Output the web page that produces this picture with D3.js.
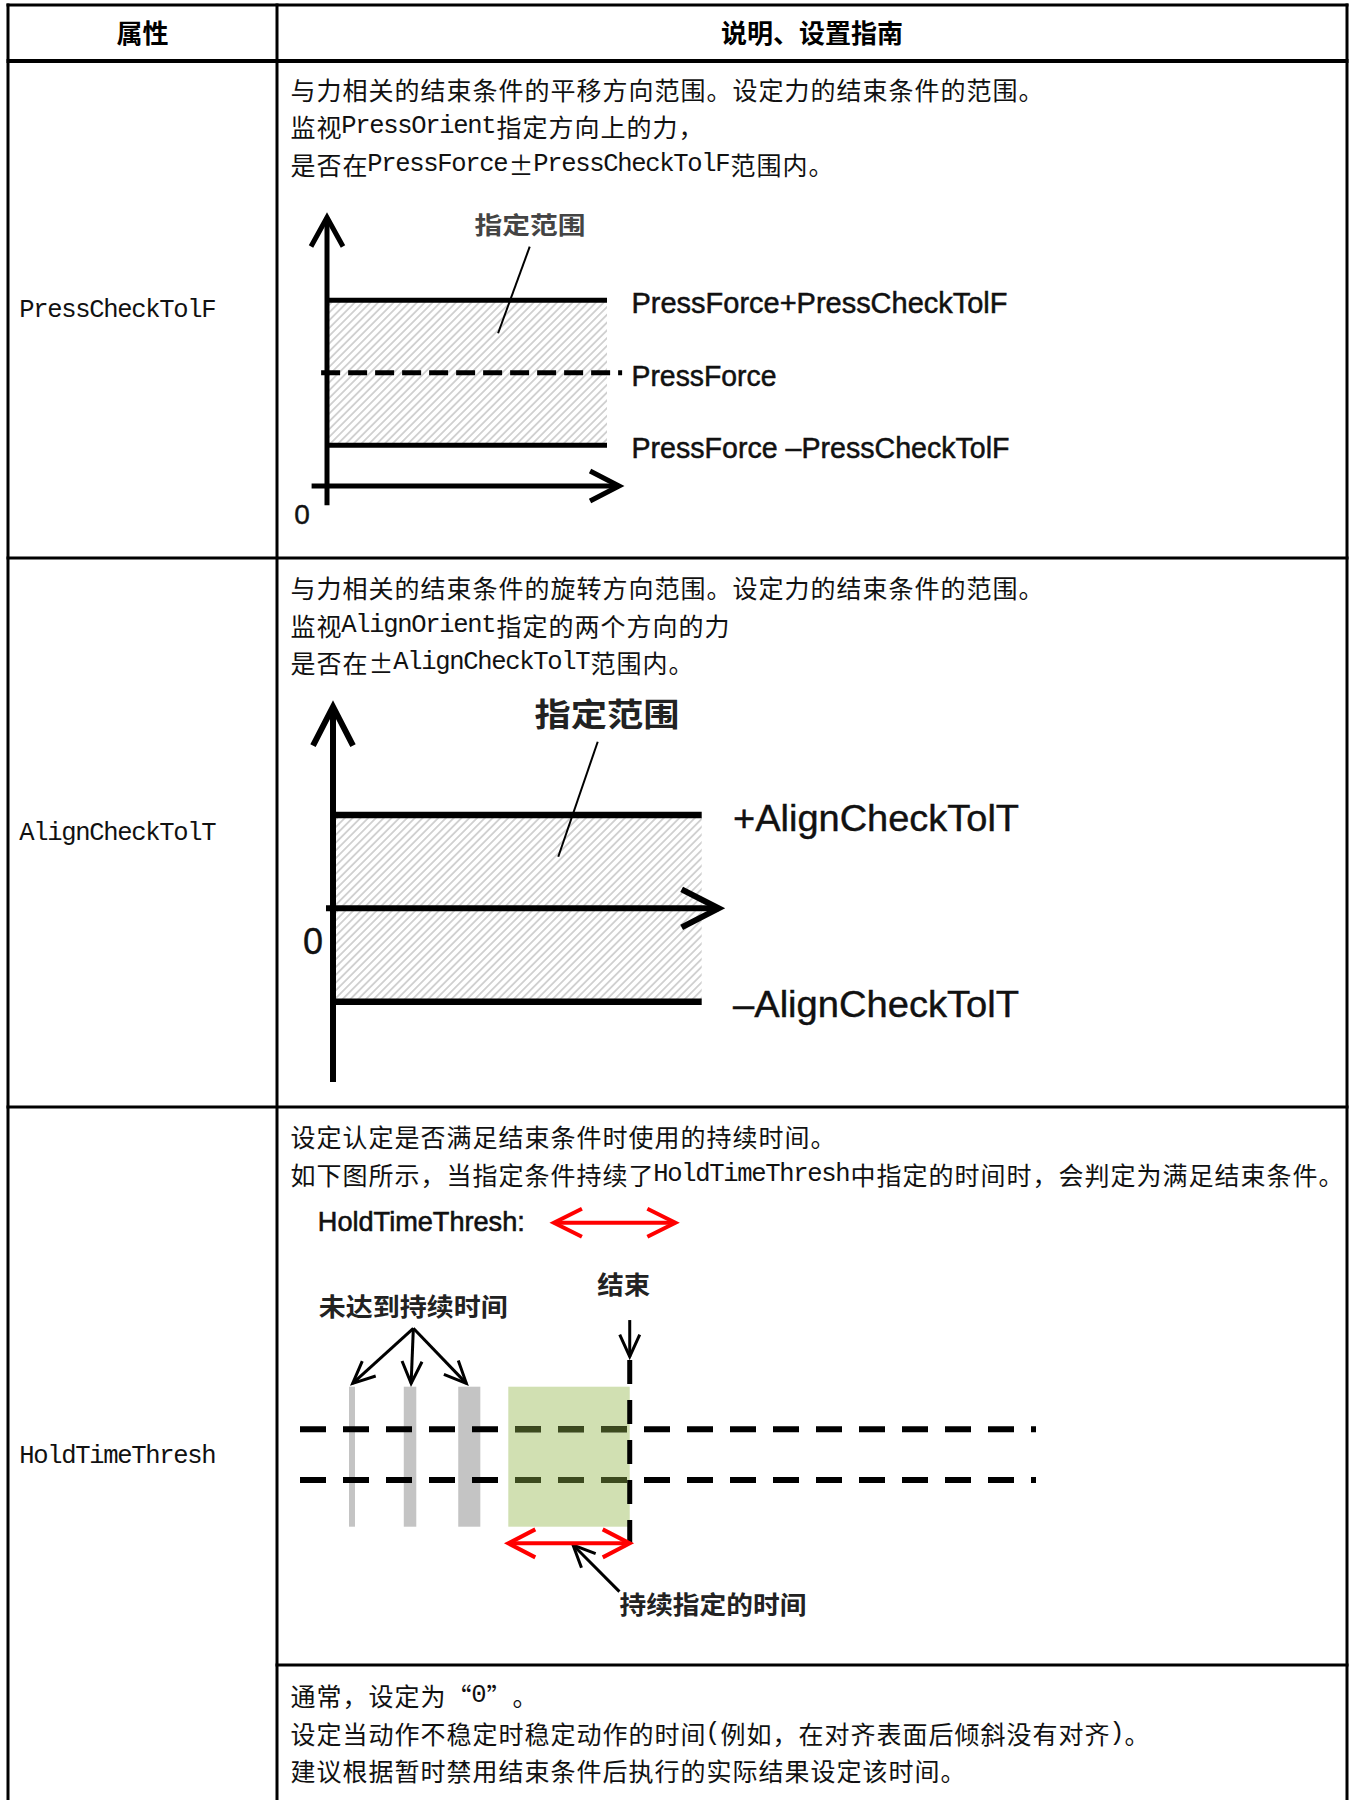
<!DOCTYPE html>
<html><head><meta charset="utf-8">
<script src="https://cdn.jsdelivr.net/npm/d3@7"></script>
<style>body{margin:0;background:#fff;overflow:hidden}</style>
</head><body><div id="chart"></div>
<script>
// ---------------- data ----------------
const headers = ["属性", "说明、设置指南"];
const propertyNames = ["PressCheckTolF", "AlignCheckTolT", "HoldTimeThresh"];
const row1Lines = ["与力相关的结束条件的平移方向范围。设定力的结束条件的范围。", "监视PressOrient指定方向上的力，", "是否在PressForce±PressCheckTolF范围内。"];
const row2Lines = ["与力相关的结束条件的旋转方向范围。设定力的结束条件的范围。", "监视AlignOrient指定的两个方向的力", "是否在±AlignCheckTolT范围内。"];
const row3Lines = ["设定认定是否满足结束条件时使用的持续时间。", "如下图所示，当指定条件持续了HoldTimeThresh中指定的时间时，会判定为满足结束条件。"];
const row3bLines = ["通常，设定为“0”。", "设定当动作不稳定时稳定动作的时间(例如，在对齐表面后倾斜没有对齐)。", "建议根据暂时禁用结束条件后执行的实际结果设定该时间。"];

// diagram 1 (PressCheckTolF), values in force units
const pressForce = 1.0;
const pressTol = 0.64;
const d1Labels = ["PressForce+PressCheckTolF", "PressForce", "PressForce –PressCheckTolF"];
const d1LabelValues = [pressForce + pressTol, pressForce, pressForce - pressTol];
const rangeLabel = "指定范围";

// diagram 2 (AlignCheckTolT)
const alignTol = 1.0;
const d2Labels = ["+AlignCheckTolT", "–AlignCheckTolT"];
const d2LabelValues = [alignTol, -alignTol];

// diagram 3 (HoldTimeThresh), time units
const shortPulses = [[6.66, 7.47], [14.1, 15.8], [21.5, 24.5]];
const holdStart = 28.3;
const holdTime = 16.5;
const thresholdLevels = [0.696, 0.334];
const d3Texts = {hold: "HoldTimeThresh:", end: "结束", notReached: "未达到持续时间", held: "持续指定的时间"};

// ---------------- layout ----------------
const W = 1349, H = 1805;
const colX = [8, 277, 1347];
const rowY = [5, 61, 558, 1107, 1805];
const subRowY = 1665;
const EM = 26, HALF = 14, LH = 37.5;
const CJK = "'Noto Sans CJK SC', sans-serif";
const MONO = "'Liberation Mono', monospace";
const SANS = "'Liberation Sans', Arial, sans-serif";

const svg = d3.select("#chart").append("svg").attr("width", W).attr("height", H)
  .style("display", "block");
svg.append("rect").attr("width", W).attr("height", H).attr("fill", "#fff");

const defs = svg.append("defs");
const pat = defs.append("pattern").attr("id", "hatch").attr("patternUnits", "userSpaceOnUse")
  .attr("width", 5.5).attr("height", 5.5).attr("patternTransform", "rotate(45)");
pat.append("rect").attr("width", 5.5).attr("height", 5.5).attr("fill", "#fff");
pat.append("line").attr("x1", 2.75).attr("x2", 2.75).attr("y1", 0).attr("y2", 5.5)
  .attr("stroke", "#b8b8b8").attr("stroke-width", 1.2);

// ---------------- helpers ----------------
function richLine(g, x0, yc, str) {
  let x = x0;
  const runs = [];
  for (const ch of str) {
    const half = /[\x20-\x7E]/.test(ch);
    const w = half ? HALF : EM;
    if (ch !== " ") {
      let r = runs[runs.length - 1];
      if (!r || r.half !== half) { r = {half, c: [], x: []}; runs.push(r); }
      r.c.push(ch); r.x.push(x + w / 2);
    }
    x += w;
  }
  const t = g.append("text").attr("y", yc).attr("text-anchor", "middle").attr("dominant-baseline", "central")
    .attr("fill", "#111");
  runs.forEach(r => t.append("tspan").attr("x", r.x.join(" ")).attr("y", yc)
    .style("font-family", r.half ? MONO : CJK).style("font-size", r.half ? "25.5px" : "25px")
    .text(r.c.join("")));
}
function arrowHead(g, tx, ty, fx, fy, len, hw, color, sw) {
  const dx = tx - fx, dy = ty - fy, L = Math.hypot(dx, dy);
  const ux = dx / L, uy = dy / L, nx = -uy, ny = ux;
  const pts = [[tx - ux * len + nx * hw, ty - uy * len + ny * hw], [tx, ty], [tx - ux * len - nx * hw, ty - uy * len - ny * hw]];
  g.append("path").attr("d", d3.line()(pts)).attr("fill", "none").attr("stroke", color)
    .attr("stroke-width", sw).attr("stroke-linejoin", "miter").attr("stroke-linecap", "butt");
}
function arrow(g, fx, fy, tx, ty, color, sw, len, hw) {
  g.append("line").attr("x1", fx).attr("y1", fy).attr("x2", tx).attr("y2", ty)
    .attr("stroke", color).attr("stroke-width", sw);
  arrowHead(g, tx, ty, fx, fy, len, hw, color, sw);
}
function dblArrow(g, x1, x2, y, color, sw, len, hw) {
  g.append("line").attr("x1", x1 + 2).attr("y1", y).attr("x2", x2 - 2).attr("y2", y)
    .attr("stroke", color).attr("stroke-width", sw);
  arrowHead(g, x1, y, x2, y, len, hw, color, sw);
  arrowHead(g, x2, y, x1, y, len, hw, color, sw);
}
function label(g, x, y, txt, font, size, weight, color, anchor, tl, strokeW) {
  const t = g.append("text").attr("x", x).attr("y", y).attr("text-anchor", anchor || "start")
    .attr("dominant-baseline", "central").style("font-family", font).style("font-size", size + "px")
    .style("font-weight", weight || "normal").attr("fill", color || "#111").text(txt);
  if (tl) t.attr("textLength", tl).attr("lengthAdjust", "spacingAndGlyphs");
  if (strokeW) t.attr("stroke", color || "#111").attr("stroke-width", strokeW);
  return t;
}

// ---------------- table text ----------------
const tg = svg.append("g");
headers.forEach((h, i) => {
  label(tg, (colX[i] + colX[i + 1]) / 2, (rowY[0] + rowY[1]) / 2 - 2, h, CJK, 26, "bold", "#000", "middle");
});
propertyNames.forEach((p, i) => {
  const yc = (rowY[i + 1] + rowY[i + 2]) / 2;
  richLine(tg, 20, yc, p);
});
const blocks = [[row1Lines, 88.5], [row2Lines, 587], [row3Lines, 1136], [row3bLines, 1695]];
blocks.forEach(([lines, y0]) => lines.forEach((ln, k) => richLine(tg, 290, y0 + k * LH, ln)));

// ---------------- diagram 1 ----------------
const g1 = svg.append("g");
const x1 = d3.scaleLinear().domain([0, 100]).range([327, 607]);
const y1 = d3.scaleLinear().domain([0, 1]).range([486, 372.7]);
g1.append("rect").attr("x", x1(0)).attr("width", x1(100) - x1(0))
  .attr("y", y1(pressForce + pressTol)).attr("height", y1(pressForce - pressTol) - y1(pressForce + pressTol))
  .attr("fill", "url(#hatch)");
[pressForce + pressTol, pressForce - pressTol].forEach(v => g1.append("line")
  .attr("x1", x1(0)).attr("x2", x1(100)).attr("y1", y1(v)).attr("y2", y1(v))
  .attr("stroke", "#000").attr("stroke-width", 5));
g1.append("line").attr("x1", x1(-2.1)).attr("x2", x1(105.4)).attr("y1", y1(pressForce)).attr("y2", y1(pressForce))
  .attr("stroke", "#000").attr("stroke-width", 5).attr("stroke-dasharray", "19,8");
arrow(g1, x1(0), y1(-0.17), x1(0), y1(2.37), "#000", 5, 29, 16);
arrow(g1, x1(-5.5), y1(0), x1(104.3), y1(0), "#000", 5, 29, 15);
d1Labels.forEach((t, i) => label(g1, x1(108.75), y1(d1LabelValues[i]) + 3, t, SANS, 29, "normal", "#111", "start",
  [376, 145, 378][i], 0.5));
label(g1, x1(-8.9), y1(-0.25), "0", SANS, 28, "normal", "#111", "middle", null, 0.4);
label(g1, x1(72.5), y1(2.32), rangeLabel, CJK, 24, "bold", "#444", "middle", 111);
g1.append("line").attr("x1", x1(72.4)).attr("y1", y1(2.112)).attr("x2", x1(61.1)).attr("y2", y1(1.348))
  .attr("stroke", "#000").attr("stroke-width", 2);

// ---------------- diagram 2 ----------------
const g2 = svg.append("g");
const x2 = d3.scaleLinear().domain([0, 100]).range([333, 701.7]);
const y2 = d3.scaleLinear().domain([-1, 1]).range([1001.7, 815]);
g2.append("rect").attr("x", x2(0)).attr("width", x2(100) - x2(0))
  .attr("y", y2(alignTol)).attr("height", y2(-alignTol) - y2(alignTol)).attr("fill", "url(#hatch)");
[alignTol, -alignTol].forEach(v => g2.append("line")
  .attr("x1", x2(0)).attr("x2", x2(100)).attr("y1", y2(v)).attr("y2", y2(v))
  .attr("stroke", "#000").attr("stroke-width", 6.5));
arrow(g2, x2(-1.9), y2(0), x2(104.6), y2(0), "#000", 6, 37, 19);
arrow(g2, x2(0), y2(-1.86), x2(0), y2(2.16), "#000", 6, 39, 20);
d2Labels.forEach((t, i) => label(g2, x2(108.5), y2(d2LabelValues[i]) + 3, t, SANS, 36, "normal", "#111", "start", 286, 0.4));
label(g2, x2(-5.4), y2(-0.357), "0", SANS, 36, "normal", "#111", "middle", null, 0.4);
label(g2, x2(74.3), y2(2.107), rangeLabel, CJK, 32, "bold", "#222", "middle", 145);
g2.append("line").attr("x1", x2(71.8)).attr("y1", y2(1.785)).attr("x2", x2(61.1)).attr("y2", y2(0.553))
  .attr("stroke", "#000").attr("stroke-width", 2);

// ---------------- diagram 3 ----------------
const g3 = svg.append("g");
const tX = d3.scaleLinear().domain([0, 100]).range([300, 1036]);
const tY = d3.scaleLinear().domain([0, 1]).range([1526.7, 1386.7]);
const holdEnd = holdStart + holdTime;
g3.selectAll("rect.pulse").data(shortPulses).join("rect").attr("class", "pulse")
  .attr("x", d => tX(d[0])).attr("width", d => tX(d[1]) - tX(d[0]))
  .attr("y", tY(1)).attr("height", tY(0) - tY(1)).attr("fill", "#c4c4c4");
g3.append("rect").attr("x", tX(holdStart)).attr("width", tX(holdEnd) - tX(holdStart))
  .attr("y", tY(1)).attr("height", tY(0) - tY(1)).attr("fill", "#d1e0b2");
defs.append("clipPath").attr("id", "greenClip").append("rect")
  .attr("x", tX(holdStart)).attr("width", tX(holdEnd) - tX(holdStart)).attr("y", tY(1)).attr("height", tY(0) - tY(1));
thresholdLevels.forEach(v => g3.append("line").attr("x1", tX(0)).attr("x2", tX(100)).attr("y1", tY(v)).attr("y2", tY(v))
  .attr("stroke", "#000").attr("stroke-width", 6).attr("stroke-dasharray", "26,17"));
const gc = g3.append("g").attr("clip-path", "url(#greenClip)");
thresholdLevels.forEach(v => gc.append("line").attr("x1", tX(0)).attr("x2", tX(100)).attr("y1", tY(v)).attr("y2", tY(v))
  .attr("stroke", "#3c4a1e").attr("stroke-width", 6).attr("stroke-dasharray", "26,17"));
g3.append("line").attr("x1", tX(holdEnd)).attr("x2", tX(holdEnd)).attr("y1", tY(1.19)).attr("y2", tY(-0.224))
  .attr("stroke", "#000").attr("stroke-width", 5).attr("stroke-dasharray", "24,16");
// arrows
arrow(g3, tX(holdEnd), tY(1.476), tX(holdEnd), tY(1.214), "#000", 3, 22, 10);
[7.16, 15.1, 22.6].forEach(v => arrow(g3, tX(15.4), tY(1.417), tX(v), tY(1.024), "#000", 3, 22, 10));
arrow(g3, tX(43.4), tY(-0.464), tX(37.1), tY(-0.131), "#000", 3, 22, 10);
dblArrow(g3, tX(34.5), tX(34.5 + holdTime), tY(2.171), "#f00", 4, 28, 14);
dblArrow(g3, tX(holdStart), tX(holdEnd), tY(-0.119), "#f00", 4, 27, 14);
// labels
label(g3, tX(2.42), tY(2.179), d3Texts.hold, SANS, 28, "normal", "#111", "start", 207, 0.6);
label(g3, tX(44.0), tY(1.741), d3Texts.end, CJK, 25, "bold", "#222", "middle", 53);
label(g3, tX(2.55), tY(1.583), d3Texts.notReached, CJK, 25, "bold", "#222", "start", 189);
label(g3, tX(43.4), tY(-0.547), d3Texts.held, CJK, 25, "bold", "#222", "start", 187);

// ---------------- table grid ----------------
const gridH = [[rowY[0], colX[0], colX[2], 3], [rowY[1], colX[0], colX[2], 4], [rowY[2], colX[0], colX[2], 3],
  [rowY[3], colX[0], colX[2], 3], [subRowY, colX[1], colX[2], 3]];
svg.append("g").selectAll("line").data(gridH).join("line")
  .attr("x1", d => d[1] - 1.5).attr("x2", d => d[2] + 1.5).attr("y1", d => d[0]).attr("y2", d => d[0])
  .attr("stroke", "#000").attr("stroke-width", d => d[3]);
svg.append("g").selectAll("line").data(colX).join("line")
  .attr("x1", d => d).attr("x2", d => d).attr("y1", rowY[0] - 1.5).attr("y2", rowY[4])
  .attr("stroke", "#000").attr("stroke-width", 3);
</script></body></html>
